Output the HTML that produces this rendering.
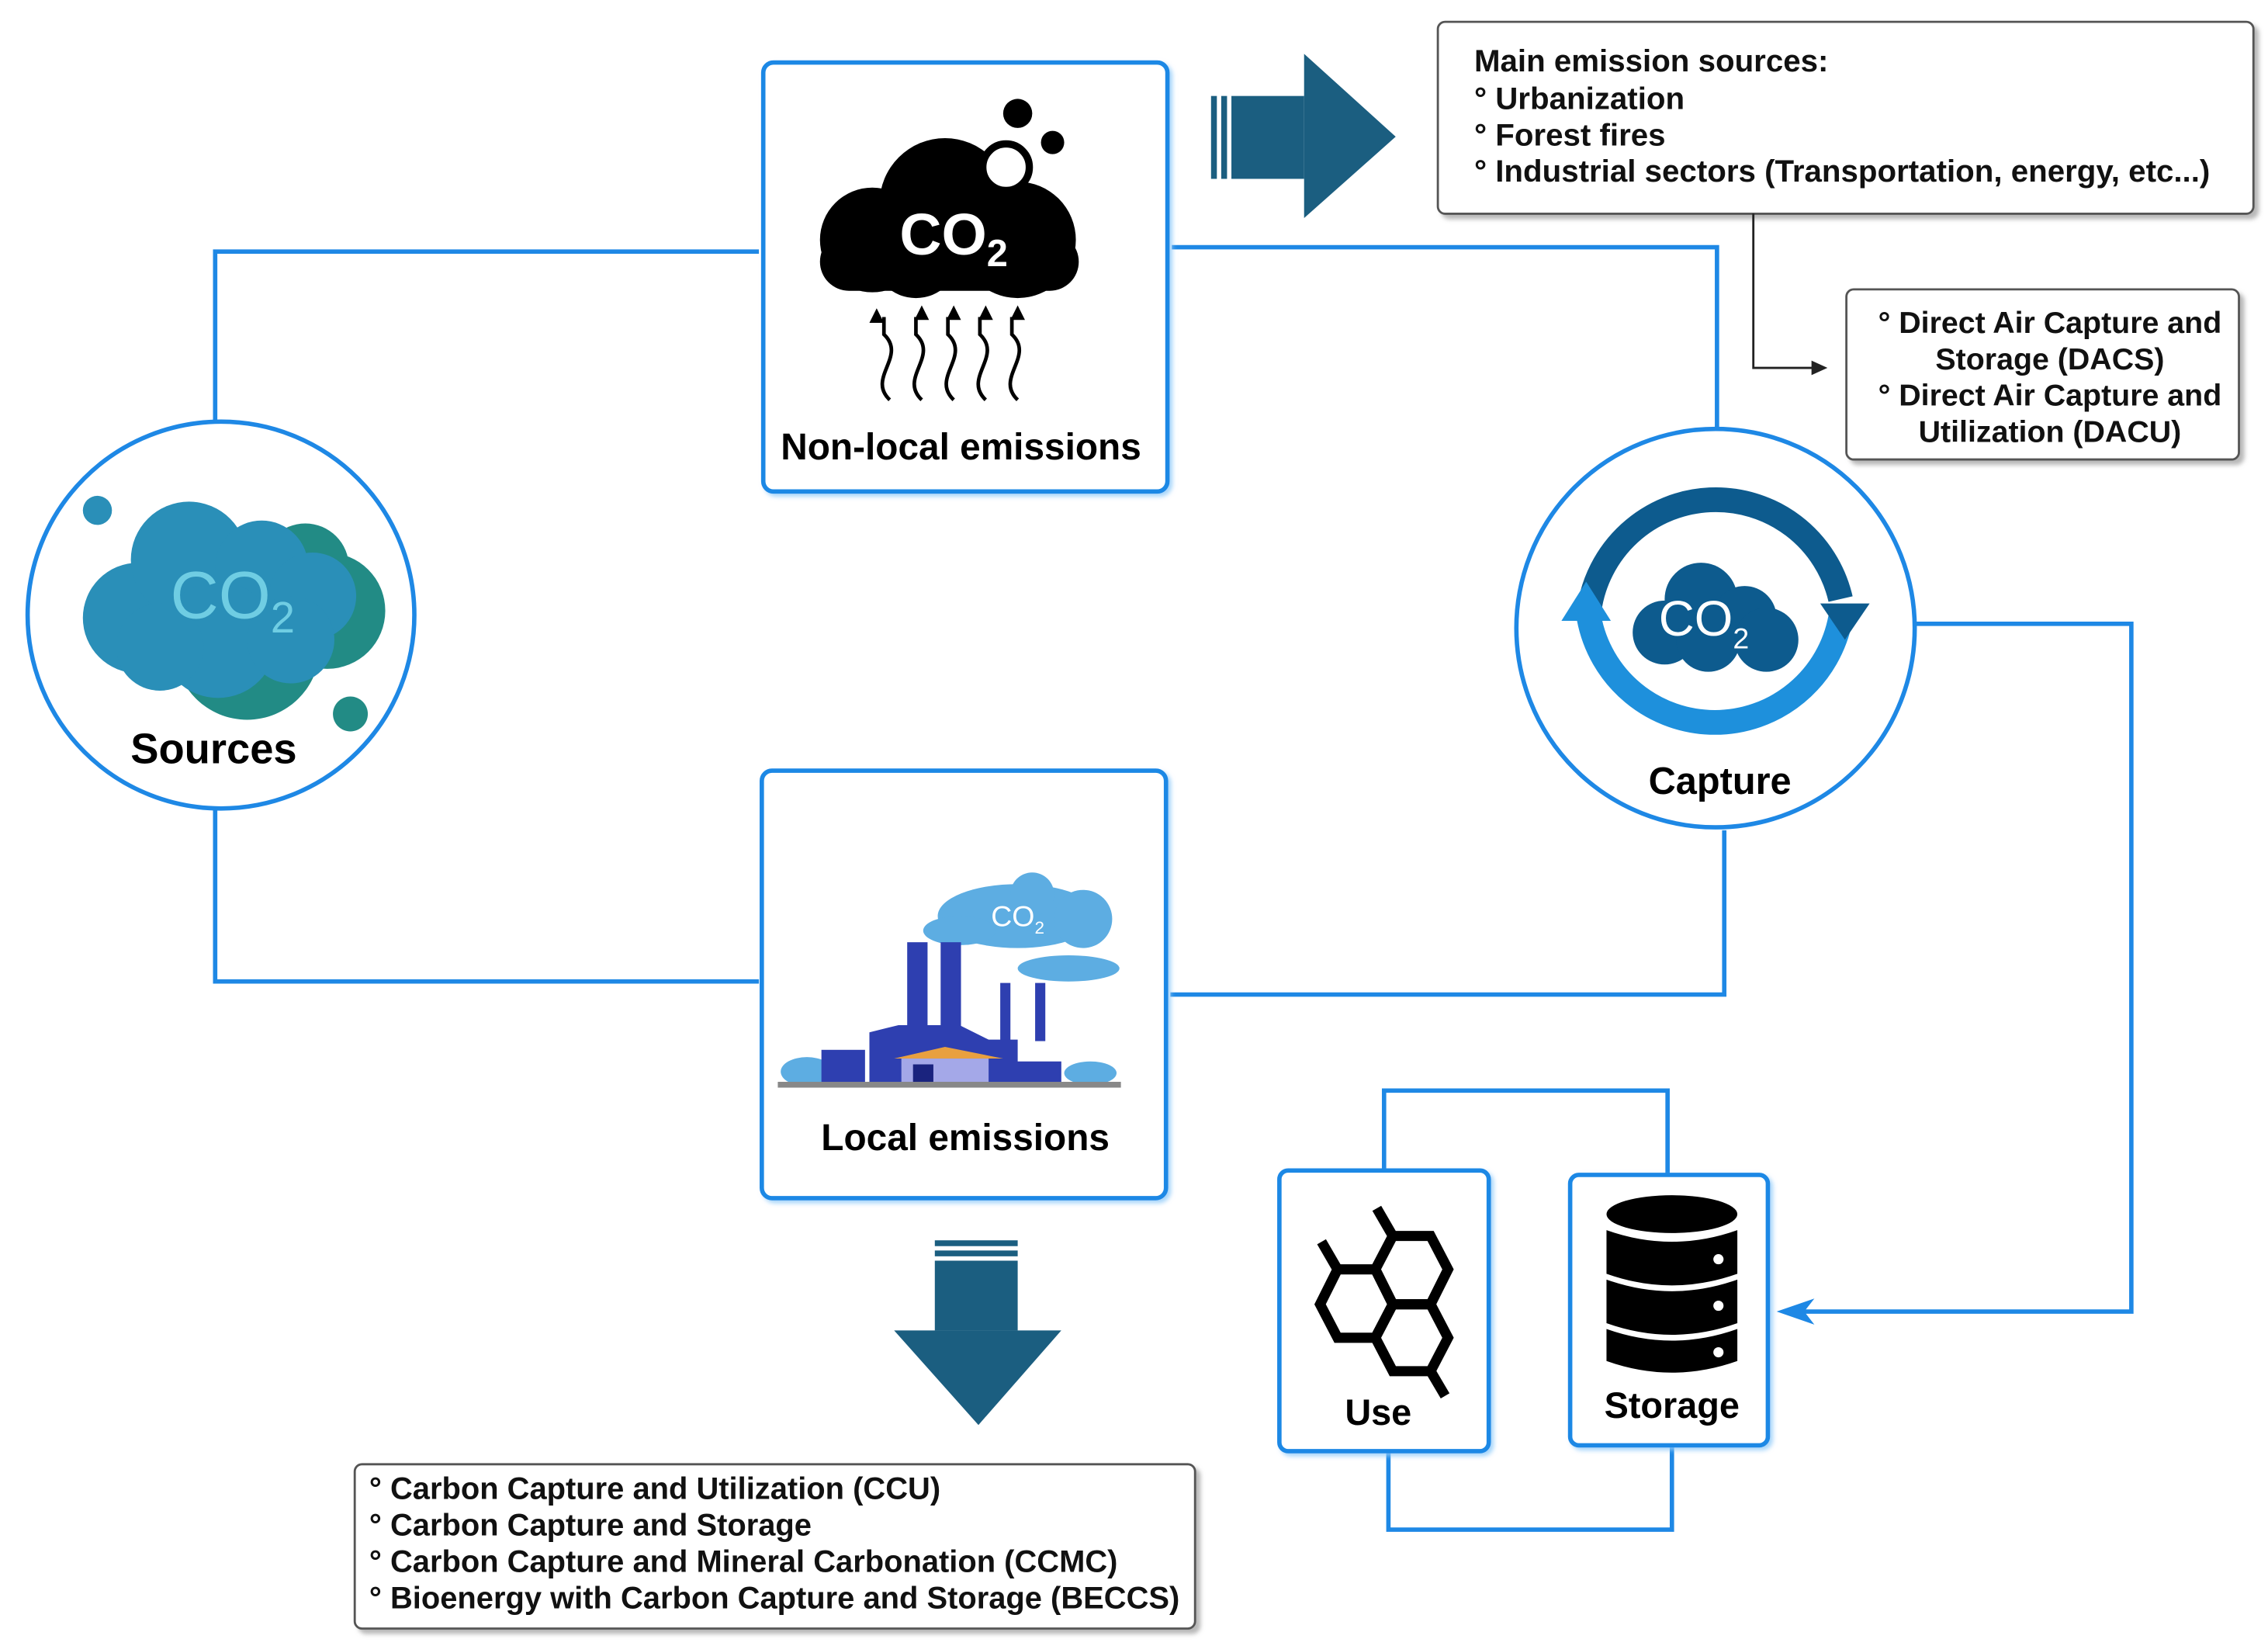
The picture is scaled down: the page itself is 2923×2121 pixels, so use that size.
<!DOCTYPE html>
<html><head><meta charset="utf-8"><style>
html,body{margin:0;padding:0;background:#fff;}
svg{display:block;}
text{font-family:"Liberation Sans",sans-serif;}
</style></head><body>
<svg width="2923" height="2121" viewBox="0 0 1560 1132" preserveAspectRatio="none" xmlns="http://www.w3.org/2000/svg">
<defs>
<filter id="sh" x="-5%" y="-5%" width="115%" height="115%"><feDropShadow dx="3" dy="3" stdDeviation="1.5" flood-color="#999" flood-opacity="0.7"/></filter>
<filter id="bsh" x="-5%" y="-5%" width="115%" height="115%"><feDropShadow dx="2" dy="2" stdDeviation="1.5" flood-color="#90caf9" flood-opacity="0.8"/></filter>
</defs>
<g fill="none" stroke="#1e88e5" stroke-width="3">
<polyline points="148,290 148,173 522,173"/>
<polyline points="806,170 1181,170 1181,294"/>
<polyline points="148,556 148,675 522,675"/>
<polyline points="805,684 1186,684 1186,571"/>
<polyline points="1318,429 1466,429 1466,902 1232,902"/>
<polyline points="952,805 952,750 1147,750 1147,808"/>
<polyline points="955,998 955,1052 1150,1052 1150,994"/>
</g>
<polygon points="1222,902 1248,893 1241,902 1248,911" fill="#1e88e5"/>
<circle cx="152" cy="423" r="133" fill="#fff" stroke="#1e88e5" stroke-width="3"/>
<g>
<circle cx="170" cy="445" r="50" fill="#228b85"/><circle cx="225" cy="420" r="40" fill="#228b85"/><circle cx="210" cy="390" r="30" fill="#228b85"/>
<circle cx="95" cy="425" r="38" fill="#2a8fb8"/><circle cx="130" cy="385" r="40" fill="#2a8fb8"/><circle cx="180" cy="390" r="32" fill="#2a8fb8"/><circle cx="215" cy="410" r="30" fill="#2a8fb8"/><circle cx="150" cy="440" r="40" fill="#2a8fb8"/><circle cx="110" cy="445" r="30" fill="#2a8fb8"/><circle cx="200" cy="440" r="30" fill="#2a8fb8"/>
<circle cx="67" cy="351" r="10" fill="#2a8fb8"/><circle cx="241" cy="491" r="12" fill="#228b85"/>
<text x="160" y="425" font-size="46" fill="#6fcde3" text-anchor="middle">CO<tspan font-size="30" dy="10">2</tspan></text>
</g>
<text x="147" y="525" font-size="29" font-weight="bold" text-anchor="middle">Sources</text>
<rect x="525" y="43" width="278" height="295" rx="7" fill="#fff" stroke="#1e88e5" stroke-width="3" filter="url(#bsh)"/>
<g fill="#000">
<circle cx="600" cy="165" r="36"/><circle cx="650" cy="140" r="45"/><circle cx="700" cy="165" r="40"/><circle cx="630" cy="175" r="30"/>
<rect x="564" y="160" width="178" height="40" rx="20"/>
<circle cx="692" cy="115" r="16" fill="#fff" stroke="#000" stroke-width="5"/>
<circle cx="700" cy="78" r="10"/><circle cx="724" cy="98" r="8"/>
</g>
<text x="656" y="175" font-size="40" font-weight="bold" fill="#fff" text-anchor="middle">CO<tspan font-size="26" dy="8">2</tspan></text>
<g fill="none" stroke="#000" stroke-width="2.5">
<path d="M612,275 c-16,-15 12,-30 -4,-45 v-12"/><path d="M634,275 c-16,-15 12,-30 -4,-45 v-12"/><path d="M656,275 c-16,-15 12,-30 -4,-45 v-12"/><path d="M678,275 c-16,-15 12,-30 -4,-45 v-12"/><path d="M700,275 c-16,-15 12,-30 -4,-45 v-12"/>
</g>
<g fill="#000"><polygon points="603,212 608,222 598,222"/><polygon points="634,210 639,220 629,220"/><polygon points="656,210 661,220 651,220"/><polygon points="678,210 683,220 673,220"/><polygon points="700,210 705,220 695,220"/></g>
<text x="661" y="316" font-size="25.5" font-weight="bold" text-anchor="middle">Non-local emissions</text>
<g fill="#1b5e80">
<rect x="833" y="66" width="4" height="57"/><rect x="840" y="66" width="4" height="57"/><rect x="847" y="66" width="50" height="57"/>
<polygon points="897,37 960,94 897,150"/>
</g>
<rect x="989" y="15" width="561" height="132" rx="5" fill="#fff" stroke="#555" stroke-width="1.5" filter="url(#sh)"/>
<g font-size="21.5" font-weight="bold" fill="#111">
<text x="1014" y="49">Main emission sources:</text>
<text x="1014" y="75">° Urbanization</text>
<text x="1014" y="100">° Forest fires</text>
<text x="1014" y="125">° Industrial sectors (Transportation, energy, etc...)</text>
</g>
<polyline points="1206,147 1206,253 1250,253" fill="none" stroke="#222" stroke-width="1.5"/>
<polygon points="1257,253 1246,248 1246,258" fill="#222"/>
<rect x="1270" y="199" width="270" height="117" rx="5" fill="#fff" stroke="#555" stroke-width="1.5" filter="url(#sh)"/>
<g font-size="21" font-weight="bold" fill="#111" text-anchor="middle">
<text x="1410" y="229">° Direct Air Capture and</text>
<text x="1410" y="254">Storage (DACS)</text>
<text x="1410" y="279">° Direct Air Capture and</text>
<text x="1410" y="304">Utilization (DACU)</text>
</g>
<circle cx="1180" cy="432" r="137" fill="#fff" stroke="#1e88e5" stroke-width="3"/>
<path d="M1093,420 A88,88 0 0 1 1266,412" fill="none" stroke="#0d5b8e" stroke-width="17"/>
<path d="M1093,425 A88,88 0 0 0 1266,425" fill="none" stroke="#1e90dc" stroke-width="17"/>
<polygon points="1252,415 1286,415 1269,440" fill="#0d5b8e"/>
<polygon points="1074,427 1108,427 1091,400" fill="#1e90dc"/>
<g fill="#0d5b8e"><circle cx="1170" cy="412" r="25"/><circle cx="1200" cy="425" r="22"/><circle cx="1145" cy="435" r="22"/><circle cx="1175" cy="440" r="22"/><circle cx="1215" cy="440" r="22"/></g>
<text x="1172" y="437" font-size="34" fill="#fff" text-anchor="middle">CO<tspan font-size="20" dy="9">2</tspan></text>
<text x="1183" y="546" font-size="26" font-weight="bold" text-anchor="middle">Capture</text>
<rect x="524" y="530" width="278" height="294" rx="7" fill="#fff" stroke="#1e88e5" stroke-width="3" filter="url(#bsh)"/>
<g fill="#5dade2"><ellipse cx="700" cy="630" rx="55" ry="22"/><circle cx="710" cy="615" r="15"/><circle cx="745" cy="632" r="20"/><ellipse cx="660" cy="640" rx="25" ry="10"/><ellipse cx="735" cy="666" rx="35" ry="9"/><ellipse cx="555" cy="737" rx="18" ry="10"/><ellipse cx="750" cy="738" rx="18" ry="8"/></g>
<text x="700" y="637" font-size="20" fill="#fff" text-anchor="middle">CO<tspan font-size="12" dy="5">2</tspan></text>
<g fill="#2e3fb0">
<rect x="624" y="648" width="14" height="60"/><rect x="647" y="648" width="14" height="60"/><rect x="688" y="676" width="7" height="40"/><rect x="712" y="676" width="7" height="40"/>
<polygon points="598,710 598,745 730,745 730,730 700,730 700,715 680,715 660,705 618,705"/>
<rect x="565" y="722" width="30" height="23"/>
</g>
<rect x="620" y="728" width="60" height="17" fill="#a4a8e8"/><rect x="628" y="732" width="14" height="13" fill="#1a237e"/>
<polygon points="615,728 650,720 690,728" fill="#e8a040"/>
<rect x="535" y="744" width="236" height="4" fill="#888"/>
<text x="664" y="791" font-size="25.5" font-weight="bold" text-anchor="middle">Local emissions</text>
<g fill="#1b5e80">
<rect x="643" y="853" width="57" height="4"/><rect x="643" y="860" width="57" height="4"/><rect x="643" y="867" width="57" height="48"/>
<polygon points="615,915 730,915 673,980"/>
</g>
<rect x="244" y="1007" width="578" height="113" rx="5" fill="#fff" stroke="#555" stroke-width="1.5" filter="url(#sh)"/>
<g font-size="21.3" font-weight="bold" fill="#111">
<text x="254" y="1031">° Carbon Capture and Utilization (CCU)</text>
<text x="254" y="1056">° Carbon Capture and Storage</text>
<text x="254" y="1081">° Carbon Capture and Mineral Carbonation (CCMC)</text>
<text x="254" y="1106">° Bioenergy with Carbon Capture and Storage (BECCS)</text>
</g>
<rect x="880" y="805" width="144" height="193" rx="6" fill="#fff" stroke="#1e88e5" stroke-width="3" filter="url(#bsh)"/>
<g fill="none" stroke="#000" stroke-width="7">
<polygon points="908,897 920,873 946,873 958,897 946,920 920,920"/>
<polygon points="946,873 958,850 984,850 996,873 984,897 958,897"/>
<polygon points="946,920 958,897 984,897 996,920 984,943 958,943"/>
<line x1="920" y1="873" x2="909" y2="854"/><line x1="958" y1="850" x2="947" y2="831"/><line x1="984" y1="943" x2="994" y2="960"/>
</g>
<text x="948" y="980" font-size="25" font-weight="bold" text-anchor="middle">Use</text>
<rect x="1080" y="808" width="136" height="186" rx="6" fill="#fff" stroke="#1e88e5" stroke-width="3" filter="url(#bsh)"/>
<g fill="#000">
<ellipse cx="1150" cy="835" rx="45" ry="13"/>
<path d="M1105,846 q45,16 90,0 v30 q-45,16 -90,0 z"/>
<path d="M1105,880 q45,16 90,0 v30 q-45,16 -90,0 z"/>
<path d="M1105,914 q45,16 90,0 v22 q-45,16 -90,0 z"/>
</g>
<g fill="#fff"><circle cx="1182" cy="866" r="3.5"/><circle cx="1182" cy="898" r="3.5"/><circle cx="1182" cy="930" r="3.5"/></g>
<text x="1150" y="975" font-size="25" font-weight="bold" text-anchor="middle">Storage</text>
</svg>
</body></html>
